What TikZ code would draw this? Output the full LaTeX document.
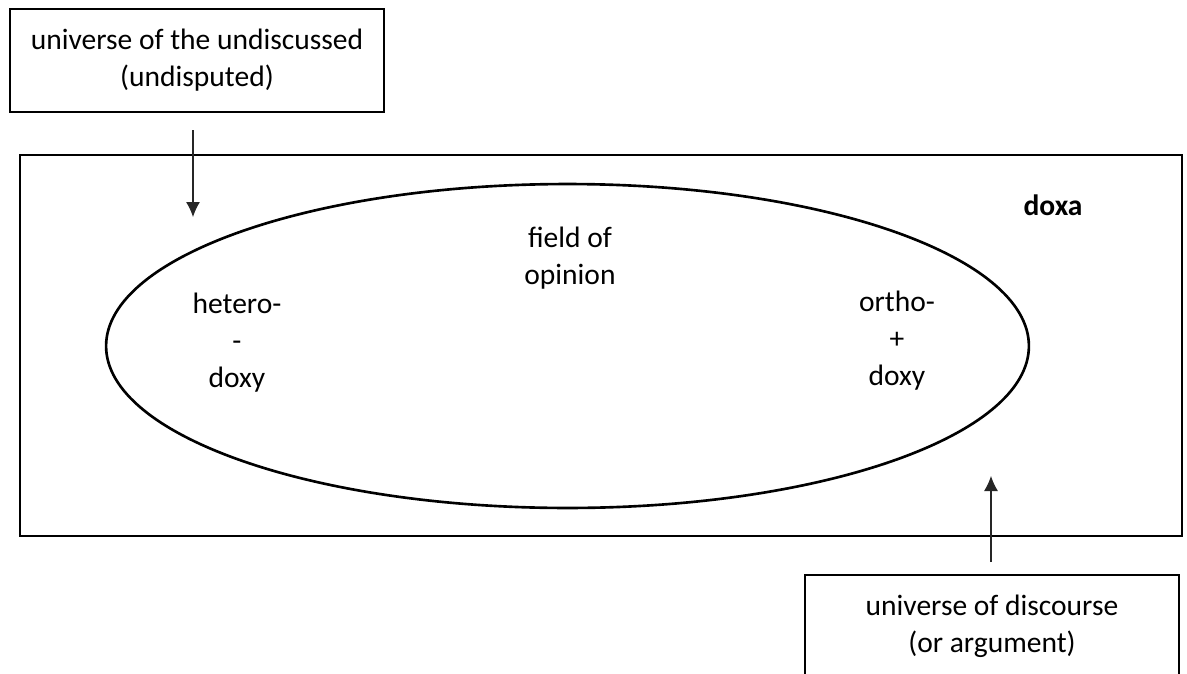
\documentclass[tikz,border=0pt]{standalone}
\usepackage{fontspec}
\setmainfont{Carlito}
\usetikzlibrary{arrows.meta}

\tikzset{
  labelbox/.style={draw, line width=1pt, minimum width=7.48cm, minimum height=2.06cm, align=center},
  pointer/.style={draw=black!85, line width=0.6pt, -{Latex[length=3mm, width=2.8mm]}}
}

\begin{document}
\begin{tikzpicture}[x=0.02cm, y=-0.02cm, font=\fontsize{16.8}{21}\selectfont]
	\useasboundingbox (0,0) rectangle (1187,673);
	\draw[line width=1.5pt] (20,155) rectangle (1182,536);
	\draw[line width=1.5pt] (567.5,346) ellipse [x radius=9.23cm, y radius=3.24cm];
	\node[labelbox] (undiscussed) at (197,60.5) {universe of the undiscussed\\(undisputed)};
	\node[labelbox] (discourse) at (992,626.5) {universe of discourse\\(or argument)};
	\node[font=\fontsize{16.8}{21}\selectfont\bfseries] (doxa) at (1053,205) {doxa};
	\node[align=center] (opinion) at (570,258.5) {field of\\opinion};
	\node[align=center] (hetero) at (237,343) {hetero-\\-\\doxy};
	\node[align=center] (ortho) at (897,341) {ortho-\\+\\doxy};
	\coordinate (topstart) at (193,130);
	\coordinate (topend) at (193,217);
	\coordinate (botstart) at (991,562);
	\coordinate (botend) at (991,476);
	\draw[pointer] (topstart) -- (topend);
	\draw[pointer] (botstart) -- (botend);
\end{tikzpicture}
\end{document}
